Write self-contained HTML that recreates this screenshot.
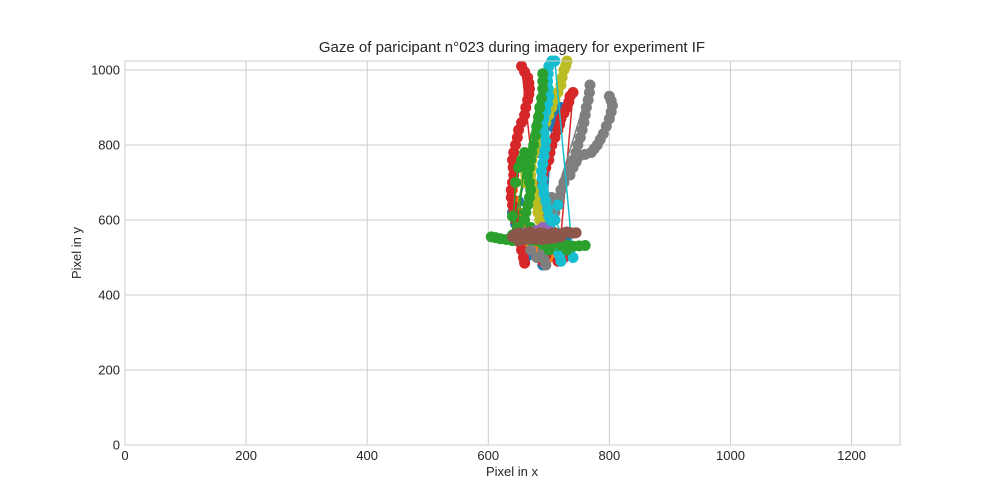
<!DOCTYPE html>
<html><head><meta charset="utf-8">
<style>
html,body{margin:0;padding:0;background:#fff;}
svg{display:block;font-family:"Liberation Sans","DejaVu Sans",sans-serif;}
</style></head>
<body>
<svg id="chart" width="1000" height="500">
<rect width="1000" height="500" fill="#fff"/>
<g id="grid"></g>
<g id="series"></g>
<rect x="125" y="61" width="775" height="384" fill="none" stroke="#cccccc" stroke-width="1"/>
<g id="ticks"></g>
<text x="512" y="52" text-anchor="middle" font-size="15" fill="#262626">Gaze of paricipant n°023 during imagery for experiment IF</text>
<text x="512" y="476" text-anchor="middle" font-size="13" fill="#262626">Pixel in x</text>
<text x="81" y="253" text-anchor="middle" font-size="13" fill="#262626" transform="rotate(-90 81 253)">Pixel in y</text>
</svg>
<script>
const xTicks=[0,200,400,600,800,1000,1200];
const yTicks=[0,200,400,600,800,1000];
const blueData=[[660,490],[665,505],[670,520],[660,540],[650,560],[645,590],[640,620],[650,650],[660,700],[680,780],[700,860],[705,870],[710,880],[720,900],[715,870],[705,850],[690,480],[700,500],[720,560],[730,540]];
const orangeData=[[640,680],[645,650],[650,620],[655,580],[660,540],[680,520],[700,500],[710,530]];
const greenData=[[605,555],[612,553],[620,550],[630,548],[640,545],[650,548],[660,550],[670,547],[680,545],[690,542],[700,540],[710,538],[720,535],[730,533],[740,530],[750,531],[760,532],[730,520],[700,520],[690,535],[680,560],[670,580],[660,600],[662,620],[665,640],[668,660],[670,680],[668,700],[665,720],[668,740],[670,760],[672,780],[675,800],[678,825],[680,850],[683,875],[685,900],[688,925],[690,950],[690,970],[690,990],[640,560],[645,700],[650,740],[655,760],[660,780],[650,580],[640,610]];
const redData=[[660,485],[658,500],[655,520],[652,540],[650,560],[648,580],[645,600],[642,620],[640,640],[638,660],[638,680],[640,700],[642,720],[641,740],[640,760],[642,780],[645,800],[648,820],[650,840],[655,860],[660,880],[662,900],[665,920],[667,935],[668,950],[667,965],[665,980],[660,995],[655,1010],[690,490],[695,505],[700,520],[698,540],[695,560],[692,580],[690,600],[688,620],[685,640],[686,660],[688,680],[689,700],[690,720],[695,740],[700,760],[702,780],[705,800],[710,820],[715,840],[718,855],[720,870],[725,885],[730,900],[733,915],[735,930],[740,940],[720,560],[722,530],[725,500],[715,490],[660,700],[665,720],[670,740],[700,600],[705,640]];
const purpleData=[[660,565],[680,572],[700,570],[690,580]];
const brownData=[[640,555],[645,562],[650,565],[655,560],[660,558],[665,565],[670,568],[675,562],[680,560],[685,566],[690,565],[695,560],[700,558],[705,564],[710,566],[715,563],[720,562],[725,566],[730,568],[735,566],[740,565],[745,566],[650,545],[660,548],[670,550],[680,549],[690,548],[700,550],[710,552],[720,555]];
const grayData=[[695,480],[692,495],[690,510],[690,520],[695,540],[700,560],[702,580],[705,600],[710,620],[715,640],[718,660],[720,680],[725,700],[730,720],[735,740],[740,760],[745,780],[748,800],[752,820],[755,840],[758,860],[760,880],[762,900],[765,920],[767,940],[768,960],[680,500],[670,520],[700,640],[705,660]];
const gray2Data=[[800,930],[803,918],[805,905],[803,888],[800,870],[795,850],[790,830],[785,815],[780,800],[775,790],[770,780],[760,775],[750,770],[745,755],[740,740],[735,720]];
const oliveData=[[690,560],[688,580],[685,600],[682,620],[680,640],[678,660],[675,680],[672,700],[670,720],[671,740],[672,760],[676,780],[680,800],[685,820],[690,840],[695,860],[700,880],[705,900],[710,920],[715,940],[720,960],[722,980],[725,1000],[728,1012],[730,1024],[660,700],[662,720],[665,740],[700,580],[710,600]];
const cyanData=[[720,490],[718,505],[715,515],[710,530],[708,550],[705,570],[702,590],[700,610],[698,630],[695,650],[692,670],[690,690],[689,710],[688,730],[690,750],[692,770],[694,790],[695,810],[692,830],[690,850],[692,870],[695,890],[698,910],[700,930],[699,950],[698,970],[699,990],[700,1010],[705,1024],[710,1024],[740,500],[735,520],[710,600],[715,640]];
const colors={blue:"#1f77b4",orange:"#ff7f0e",green:"#2ca02c",red:"#d62728",purple:"#9467bd",brown:"#8c564b",gray:"#7f7f7f",olive:"#bcbd22",cyan:"#17becf"};
const sx=v=>125+v*775/1280, sy=v=>445-v*384/1024;
const NS="http://www.w3.org/2000/svg";
const grid=document.getElementById('grid'),ticks=document.getElementById('ticks'),ser=document.getElementById('series');
xTicks.forEach(t=>{
 const l=document.createElementNS(NS,'line');
 l.setAttribute('x1',sx(t));l.setAttribute('x2',sx(t));l.setAttribute('y1',61);l.setAttribute('y2',445);l.setAttribute('stroke','#cccccc');
 
 
 grid.appendChild(l);
 const tx=document.createElementNS(NS,'text');
 tx.setAttribute('x',sx(t));tx.setAttribute('y',460);tx.setAttribute('text-anchor','middle');tx.setAttribute('font-size','13');tx.setAttribute('fill','#262626');tx.textContent=t;
 
 
 ticks.appendChild(tx);
});
yTicks.forEach(t=>{
 const l=document.createElementNS(NS,'line');
 l.setAttribute('x1',125);l.setAttribute('x2',900);l.setAttribute('y1',sy(t));l.setAttribute('y2',sy(t));l.setAttribute('stroke','#cccccc');
 
 
 grid.appendChild(l);
 const tx=document.createElementNS(NS,'text');
 tx.setAttribute('x',120);tx.setAttribute('y',sy(t)+4.5);tx.setAttribute('text-anchor','end');tx.setAttribute('font-size','13');tx.setAttribute('fill','#262626');tx.textContent=t;
 
 
 ticks.appendChild(tx);
});
function draw(data,color,name){
 const g=document.createElementNS(NS,'g');
 
 
 const p=document.createElementNS(NS,'polyline');
 p.setAttribute('points',data.map(d=>sx(d[0])+','+sy(d[1])).join(' '));
 p.setAttribute('fill','none');p.setAttribute('stroke',color);p.setAttribute('stroke-width','1.5');
 
 
 g.appendChild(p);
 data.forEach(d=>{
  const c=document.createElementNS(NS,'circle');
  c.setAttribute('cx',sx(d[0]));c.setAttribute('cy',sy(d[1]));c.setAttribute('r',5.5);c.setAttribute('fill',color);
  
  
  g.appendChild(c);
 });
 ser.appendChild(g);
}
draw(blueData,colors.blue,'blue-series');
draw(orangeData,colors.orange,'orange-series');
draw(redData,colors.red,'red-series');
draw(grayData,colors.gray,'gray-series');
draw(gray2Data,colors.gray,'gray-series-2');
draw(oliveData,colors.olive,'olive-series');
draw(cyanData,colors.cyan,'cyan-series');
draw(greenData,colors.green,'green-series');
draw(purpleData,colors.purple,'purple-series');
draw(brownData,colors.brown,'brown-series');
</script>
</body></html>
